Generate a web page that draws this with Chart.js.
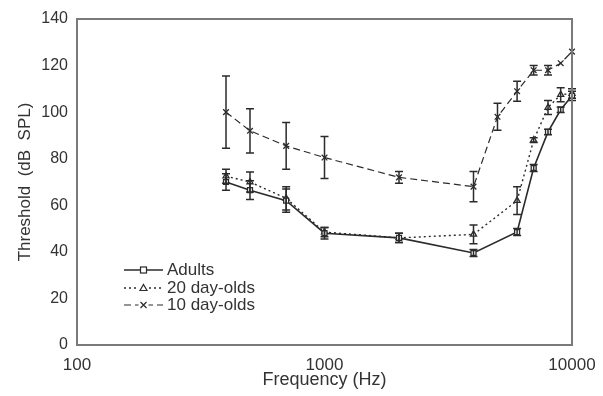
<!DOCTYPE html>
<html>
<head>
<meta charset="utf-8">
<script src="https://cdn.jsdelivr.net/npm/chart.js@4.4.0/dist/chart.umd.min.js"></script>
<style>
  html, body { margin: 0; padding: 0; background: #fff; }
  #wrap { width: 603px; height: 396px; }
</style>
</head>
<body>
<div id="wrap"><canvas id="grafico"></canvas></div>
<script>
// frequencias (Hz) de cada grupo
var freqAdultos = [400, 500, 700, 1000, 2000, 4000, 6000, 7000, 8000, 9000, 10000];
var freq20dias = [400, 500, 700, 1000, 2000, 4000, 6000, 7000, 8000, 9000, 10000];
var freq10dias = [400, 500, 700, 1000, 2000, 4000, 5000, 6000, 7000, 8000, 9000, 10000];

// limiares medios (dB SPL)
var limiarAdultos = [70, 66.5, 62, 48, 46, 39.5, 48.5, 76, 91.5, 101, 107];
var limiar20dias = [72.5, 70, 63, 48.5, 46, 47.5, 62, 88, 102, 107.5, 108];
var limiar10dias = [100, 92, 85.5, 80.5, 72, 68, 98, 109, 118, 118, 121, 126];

// barras de erro (+/-)
var erroAdultos = [3.5, 4, 5, 2.5, 2, 1.5, 1.5, 1.5, 1.2, 1.2, 2];
var erro20dias = [3, 4.3, 5, 2, 2, 4, 6, 1, 3, 3, 2];
var erro10dias = [15.5, 9.5, 10, 9, 2.5, 6.5, 5.8, 4.3, 2, 2, 0, 0];

var ticksX = [100, 1000, 10000];
var nomes = ['Adults', '20 day-olds', '10 day-olds'];

function pontos(xs, ys) {
  var out = [];
  for (var i = 0; i < xs.length; i++) {
    out.push({ x: xs[i], y: ys[i] });
  }
  return out;
}

var cor = '#2b2b2b';
var corTexto = '#333';
var fonte = "'Liberation Sans', Arial, sans-serif";

// desenha as barras de erro usando as escalas do grafico
var pluginErro = {
  id: 'barrasErro',
  afterDatasetsDraw: function (chart) {
    var ctx = chart.ctx;
    var sx = chart.scales.x, sy = chart.scales.y;
    var erros = [erroAdultos, erro20dias, erro10dias];
    ctx.save();
    ctx.strokeStyle = cor;
    ctx.lineWidth = 1.5;
    ctx.setLineDash([]);
    chart.data.datasets.forEach(function (ds, k) {
      ds.data.forEach(function (p, i) {
        var e = erros[k][i];
        if (!e) return;
        var px = sx.getPixelForValue(p.x);
        var y1 = sy.getPixelForValue(p.y + e);
        var y2 = sy.getPixelForValue(p.y - e);
        ctx.beginPath();
        ctx.moveTo(px, y1); ctx.lineTo(px, y2);
        ctx.moveTo(px - 4, y1); ctx.lineTo(px + 4, y1);
        ctx.moveTo(px - 4, y2); ctx.lineTo(px + 4, y2);
        ctx.stroke();
      });
    });
    ctx.restore();
  }
};

// moldura e legenda
var pluginMoldura = {
  id: 'moldura',
  afterDraw: function (chart) {
    var ctx = chart.ctx;
    var a = chart.chartArea;
    ctx.save();
    ctx.strokeStyle = '#7a7a7a';
    ctx.lineWidth = 2;
    ctx.setLineDash([]);
    ctx.strokeRect(a.left, a.top, a.right - a.left, a.bottom - a.top);

    // legenda
    var x0 = a.left + 47, x1 = a.left + 86;
    var ys = [a.bottom - 75, a.bottom - 57, a.bottom - 40];
    ctx.font = '17px ' + fonte;
    ctx.textBaseline = 'middle';
    chart.data.datasets.forEach(function (ds, k) {
      var y = ys[k];
      ctx.strokeStyle = cor;
      ctx.lineWidth = ds.borderWidth;
      ctx.setLineDash(ds.borderDash || []);
      ctx.beginPath();
      ctx.moveTo(x0, y); ctx.lineTo(x1, y);
      ctx.stroke();
      ctx.setLineDash([]);
      var mx = (x0 + x1) / 2;
      ctx.fillStyle = '#fff';
      ctx.lineWidth = 1.2;
      if (k === 0) {
        ctx.fillRect(mx - 3, y - 3, 6, 6);
        ctx.strokeRect(mx - 3, y - 3, 6, 6);
      } else if (k === 1) {
        ctx.fillRect(mx - 5, y - 4, 10, 8);
        ctx.beginPath();
        ctx.moveTo(mx, y - 3.5); ctx.lineTo(mx + 3.5, y + 2.5); ctx.lineTo(mx - 3.5, y + 2.5);
        ctx.closePath(); ctx.stroke();
      } else {
        ctx.fillRect(mx - 5, y - 2, 10, 4);
        ctx.beginPath();
        ctx.moveTo(mx - 3, y - 3); ctx.lineTo(mx + 3, y + 3);
        ctx.moveTo(mx + 3, y - 3); ctx.lineTo(mx - 3, y + 3);
        ctx.stroke();
      }
      ctx.fillStyle = corTexto;
      ctx.fillText(nomes[k], x1 + 4, y);
    });
    ctx.restore();
  }
};

function serie(nome, xs, ys, estilo, tracejado, largura, raio) {
  return {
    label: nome,
    data: pontos(xs, ys),
    borderColor: cor,
    backgroundColor: '#fff',
    borderWidth: largura,
    borderDash: tracejado,
    pointStyle: estilo,
    pointRadius: raio,
    pointBorderWidth: 1.3,
    pointBorderColor: cor,
    pointBackgroundColor: '#fff',
    tension: 0,
    clip: false
  };
}

var ctx = document.getElementById('grafico').getContext('2d');
var chart = new Chart(ctx, {
  type: 'line',
  data: {
    datasets: [
      serie(nomes[0], freqAdultos, limiarAdultos, 'rect', [], 1.6, 3.5),
      serie(nomes[1], freq20dias, limiar20dias, 'triangle', [2, 3], 1.4, 3.5),
      serie(nomes[2], freq10dias, limiar10dias, 'crossRot', [7, 4], 1.2, 4)
    ]
  },
  plugins: [pluginErro, pluginMoldura],
  options: {
    responsive: true,
    maintainAspectRatio: false,
    animation: false,
    layout: { padding: { left: 15, right: 31, top: 19, bottom: 7 } },
    plugins: {
      legend: { display: false },
      tooltip: { enabled: false }
    },
    scales: {
      x: {
        type: 'logarithmic',
        min: 100,
        max: 10000,
        afterBuildTicks: function (axis) {
          axis.ticks = ticksX.map(function (v) { return { value: v }; });
        },
        afterFit: function (axis) {
          axis.height = 44;
          axis.paddingRight = 0;
          axis.paddingLeft = 0;
        },
        ticks: {
          color: corTexto,
          font: { family: fonte, size: 17, lineHeight: 1 },
          padding: 12,
          maxRotation: 0,
          callback: function (v) { return String(v); }
        },
        grid: { display: false, drawTicks: false },
        border: { display: false },
        title: {
          display: true,
          text: 'Frequency (Hz)',
          color: corTexto,
          font: { family: fonte, size: 18, lineHeight: 1 },
          padding: { top: 0, bottom: 0 }
        }
      },
      y: {
        min: 0,
        max: 140,
        afterFit: function (axis) { axis.width = 62; },
        ticks: {
          stepSize: 20,
          color: corTexto,
          font: { family: fonte, size: 16 },
          padding: 9
        },
        grid: { display: false, drawTicks: false },
        border: { display: false },
        title: {
          display: true,
          text: 'Threshold  (dB  SPL)',
          color: corTexto,
          font: { family: fonte, size: 17 },
          padding: { top: 0, bottom: 0 }
        }
      }
    }
  }
});
</script>
</body>
</html>
